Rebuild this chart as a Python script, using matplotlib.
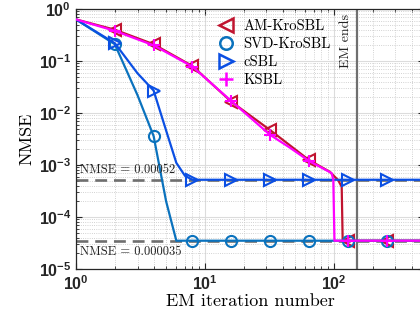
import matplotlib
matplotlib.use("Agg")
import matplotlib.pyplot as plt
from matplotlib.lines import Line2D

plt.rcParams['font.family'] = ['Liberation Sans', 'DejaVu Sans']
plt.rcParams['font.weight'] = 'bold'

# ---- data ----
am_iter = [1, 2, 4, 8, 16, 32, 64, 93, 108, 115, 117, 128, 256, 500]
am_nmse = [0.63, 0.40, 0.21, 0.08, 0.0165, 0.0047, 0.00125, 0.00074, 0.00051,
           0.00038, 3.5e-5, 3.5e-5, 3.5e-5, 3.5e-5]

svd_iter = [1, 2, 3, 4, 5, 6, 8, 16, 32, 64, 128, 256, 500]
svd_nmse = [0.63, 0.21, 0.022, 0.0036, 0.0002, 3.5e-5, 3.5e-5, 3.5e-5, 3.5e-5,
            3.5e-5, 3.5e-5, 3.5e-5, 3.5e-5]

csbl_iter = [1, 2, 3, 4, 5, 6, 7, 8, 16, 32, 64, 128, 256, 500]
csbl_nmse = [0.63, 0.22, 0.058, 0.027, 0.0046, 0.0011, 0.00062, 0.00052, 0.00052,
             0.00052, 0.00052, 0.00052, 0.00052, 0.00052]

ksbl_iter = [1, 2, 4, 8, 16, 32, 45, 64, 96, 99, 101, 128, 256, 500]
ksbl_nmse = [0.63, 0.38, 0.20, 0.078, 0.017, 0.0038, 0.0022, 0.0012, 0.0007,
             0.00052, 3.5e-5, 3.5e-5, 3.5e-5, 3.5e-5]

marker_iters = [2, 4, 8, 16, 32, 64, 128, 256]
series_names = ['AM-KroSBL', 'SVD-KroSBL', 'cSBL', 'KSBL']
series_colors = ['#c0142f', '#0a72bd', '#0b4fe3', '#ff00ff']
series_markers = ['<', 'o', '>', '+']

ref_levels = [0.00052, 0.000035]
ref_labels = ['NMSE = 0.00052', 'NMSE = 0.000035']
em_end = 150

fig = plt.figure(figsize=(4.2, 3.24), dpi=100)
ax = fig.add_axes([76/420, 55/324, 348/420, 260/324])

data = [(am_iter, am_nmse), (svd_iter, svd_nmse), (csbl_iter, csbl_nmse), (ksbl_iter, ksbl_nmse)]
msizes = [9, 8, 9, 9]
for (it, val), name, col, mk, ms in zip(data, series_names, series_colors, series_markers, msizes):
    me = [i for i, x in enumerate(it) if x in marker_iters]
    ax.plot(it, val, color=col, lw=1.6, marker=mk, markevery=me, ms=ms,
            mfc='none', mew=1.5, zorder=3)

for lvl in ref_levels:
    ax.axhline(lvl, color='#6f6f6f', lw=1.9, ls=(0, (4.5, 2.6)), zorder=2.5)
ax.axvline(em_end, color='#6f6f6f', lw=1.6, zorder=2.5)

ax.text(1.07, 7.1e-4, ref_labels[0], family='cmr10', fontsize=9, weight='normal',
        ha='left', va='baseline', color='#222222')
ax.text(1.07, 1.86e-5, ref_labels[1], family='cmr10', fontsize=9, weight='normal',
        ha='left', va='baseline', color='#222222')
ax.text(124, 0.8, 'EM ends', family='cmr10', fontsize=10, weight='normal',
        rotation=90, ha='center', va='top', color='#222222')

ax.set_xscale('log')
ax.set_yscale('log')
ax.set_xlim(1, 500)
ax.set_ylim(1e-5, 1)

ax.grid(True, which='major', color='#dcdcdc', lw=0.8, ls='-')
ax.grid(True, which='minor', color='#c4c4c4', lw=0.6, ls=':')
ax.set_axisbelow(True)

ax.tick_params(which='both', direction='in', top=True, right=True, colors='#262626',
               labelsize=11.5)
ax.tick_params(which='major', length=4)
ax.tick_params(which='minor', length=2)
for sp in ax.spines.values():
    sp.set_color('#262626')
    sp.set_linewidth(0.9)

ax.set_xlabel('EM iteration number', family='cmr10', fontsize=13, weight='normal', labelpad=1)
ax.set_ylabel('NMSE', family='cmr10', fontsize=13, weight='normal', labelpad=3)

handles = [Line2D([], [], color=c, marker=m, ls='none', ms=ms + 1, mfc='none', mew=1.8)
           for c, m, ms in zip(series_colors, series_markers, msizes)]
leg = ax.legend(handles, series_names, loc='upper left', bbox_to_anchor=(0.367, 1.012),
                frameon=False, prop=dict(family='cmr10', size=10.5),
                handlelength=1.2, handletextpad=0.6, labelspacing=0.3, borderpad=0.4)

fig.savefig('out.png', dpi=100)
